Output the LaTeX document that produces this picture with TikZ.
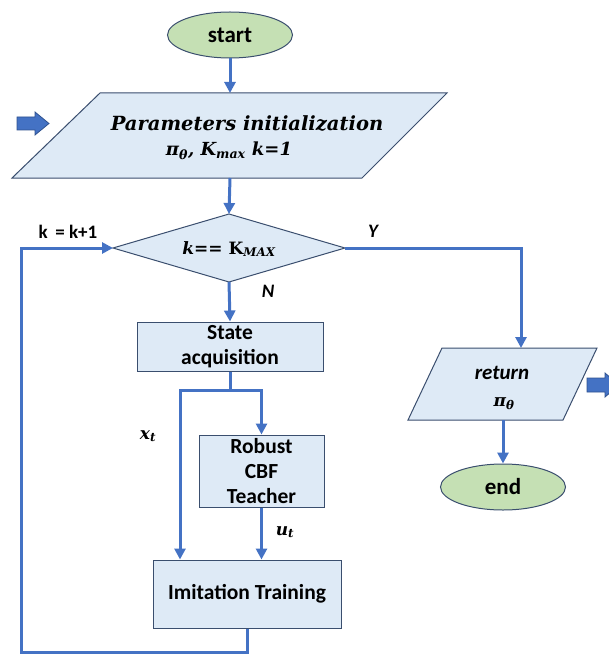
\RequirePackage{fix-cm}
\documentclass[tikz,border=0pt]{standalone}
\usepackage{amsmath}
\usepackage{fontspec}
\setmainfont{Carlito}
\newfontfamily\eqfont{DejaVu Serif}
\usetikzlibrary{shapes.geometric,arrows.meta}

\definecolor{flowline}{HTML}{4472C4}
\definecolor{boxfill}{HTML}{DEEAF6}
\definecolor{boxedge}{HTML}{3A4E6E}
\definecolor{termfill}{HTML}{C5E0B4}
\definecolor{blockarrow}{HTML}{4472C4}
\definecolor{blockedge}{HTML}{2F528F}

% bold italic serif used for the formula-like texts
\newcommand{\eqtext}[1]{{\eqfont\bfseries\itshape #1}}
\newcommand{\eqsub}[1]{$_{\text{#1}}$}

\tikzset{
  flow/.style={draw=flowline, line width=3pt, -{Triangle[length=11pt,width=11pt]}},
  flowplain/.style={draw=flowline, line width=3pt},
  procbox/.style={draw=boxedge, fill=boxfill, line width=1pt, rectangle,
    inner sep=0pt, align=center, font=\fontsize{21.5}{25}\selectfont\bfseries},
  iobox/.style={draw=boxedge, fill=boxfill, line width=1pt},
  terminal/.style={draw=boxedge, fill=termfill, line width=1pt, ellipse,
    inner sep=0pt, minimum width=125pt, minimum height=46pt,
    font=\fontsize{23}{26}\selectfont\bfseries},
  tag/.style={font=\fontsize{19}{22}\selectfont\bfseries},
  itag/.style={font=\fontsize{19}{22}\selectfont\bfseries\itshape},
  eqlabel/.style={font=\fontsize{17}{22}\selectfont},
  bigarrow/.style={draw=blockedge, fill=blockarrow, line width=0.8pt}
}

\begin{document}
\begin{tikzpicture}[x=1pt,y=-1pt]
  \useasboundingbox (0,0) rectangle (609,655);

  % terminals
  \node[terminal] (start) at (230,35) {start};
  \node[terminal] (end) at (503,487) {end};

  % parameter initialization (input parallelogram)
  \draw[iobox] (100,93) -- (447,93) -- (362,178) -- (12,178) -- cycle;
  \coordinate (initTop) at (230,93);
  \coordinate (initBot) at (230,178);
  \node[eqlabel, font=\fontsize{19.5}{22}\selectfont] (initA) at (247,123) {\eqtext{Parameters initialization}};
  \node[eqlabel, font=\fontsize{18}{22}\selectfont] (initB) at (229,151) {\eqtext{π\eqsub{θ}, K\eqsub{max} k=1}};

  % feed-in block arrow
  \draw[bigarrow] (17,117) -- (35,117) -- (35,112) -- (49,123.5) -- (35,135) -- (35,130) -- (17,130) -- cycle;

  % loop test (decision diamond)
  \coordinate (testW) at (113,248);
  \coordinate (testN) at (229,214);
  \coordinate (testE) at (345,248);
  \coordinate (testS) at (229,282);
  \draw[iobox] (testW) -- (testN) -- (testE) -- (testS) -- cycle;
  \node[eqlabel] (test) at (229,249)
    {\eqtext{k== }{\eqfont\bfseries K\eqsub{\itshape MAX}}};

  % processing boxes
  \node[procbox, minimum width=186pt, minimum height=49pt] (state) at (230,346.5) {State\\acquisition};
  \node[procbox, minimum width=125pt, minimum height=72pt] (teacher) at (261.5,471) {Robust\\CBF\\Teacher};
  \node[procbox, minimum width=188pt, minimum height=68pt] (imit) at (247,594) {Imitation Training};

  % return parallelogram
  \draw[iobox] (442,348) -- (597,348) -- (563,420) -- (408,420) -- cycle;
  \coordinate (retTop) at (521,348);
  \coordinate (retBot) at (503,420);
  \node[font=\fontsize{21}{24}\selectfont\bfseries\itshape] (retA) at (502,373) {return};
  \node[eqlabel] (retB) at (504,404) {\eqtext{π\eqsub{θ}}};

  % output block arrow
  \draw[bigarrow] (587,378) -- (605,378) -- (605,373) -- (619,385) -- (605,397) -- (605,392) -- (587,392) -- cycle;

  % connectors
  \draw[flow] (start) -- (initTop);
  \draw[flow] (initBot) -- (testN);
  \draw[flow] (testS) -- (state.north);
  \draw[flow] (testE) -| (retTop);
  \draw[flow] (retBot) -- (end.north);

  \coordinate (split) at (230,390);
  \coordinate (splitL) at (180,390);
  \coordinate (splitR) at (261.5,390);
  \draw[flowplain] (state.south) -- (split);
  \draw[flowplain, line cap=rect] (splitL) -- (splitR);
  \draw[flow] (splitR) -- (teacher.north);
  \draw[flow] (splitL) -- (splitL |- imit.north);
  \draw[flow] (teacher.south) -- (teacher.south |- imit.north);

  \coordinate (loopA) at (247,652);
  \coordinate (loopB) at (21,652);
  \coordinate (loopC) at (21,248);
  \draw[flow] (imit.south) -- (loopA) -- (loopB) -- (loopC) -- (testW);

  % labels
  \node[tag] (klabel) at (68,232) {k\, = k+1};
  \node[itag] (ylabel) at (373,231) {Y};
  \node[itag] (nlabel) at (268,291) {N};
  \node[eqlabel] (xlabel) at (148,436) {\eqtext{x\eqsub{t}}};
  \node[eqlabel] (ulabel) at (285,532) {\eqtext{u\eqsub{t}}};
\end{tikzpicture}
\end{document}
